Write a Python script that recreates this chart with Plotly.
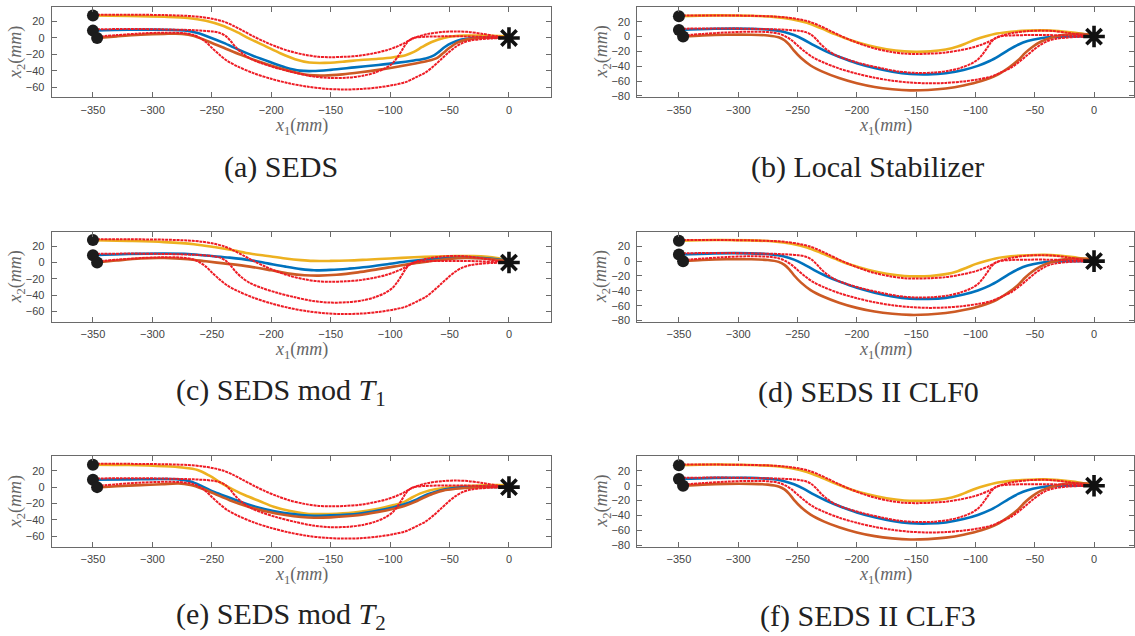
import plotly.graph_objects as go

W, H = 1135, 636

# ---------------- demonstrations (shared by all panels) ----------------
demo_a_x = [-350, -320, -290, -270, -258, -248, -240, -232, -224, -215, -205, -195, -185, -172, -160, -150, -138, -125, -113, -103, -95, -89, -84, -78, -68, -55, -45, -35, -22, -10, 0]
demo_a_y = [28.5, 28.5, 28, 27, 25.5, 23, 20, 15, 9, 2, -5, -11, -16, -20.5, -23, -23.5, -23, -21.5, -18.5, -15, -11, -7, -3, 1, 5, 7.5, 8, 7.5, 5, 2, 0]

demo_b_x = [-350, -320, -290, -265, -250, -243, -238, -234, -230, -225, -218, -208, -195, -180, -165, -150, -135, -122, -112, -104, -98, -94, -90, -87, -84, -80, -70, -55, -40, -25, -10, 0]
demo_b_y = [10.5, 11, 10.5, 9.5, 8, 6, 2, -4, -11, -18, -25, -31, -37, -42.5, -47, -49, -48.5, -46, -42, -37, -31, -24, -15, -8, -3, 0, 1.5, 2, 2, 1.5, 0.5, 0]

demo_c_x = [-347, -330, -310, -290, -275, -266, -260, -255, -250, -244, -237, -228, -215, -200, -185, -170, -155, -140, -125, -110, -97, -87, -78, -70, -63, -57, -51, -45, -39, -32, -24, -14, 0]
demo_c_y = [1.5, 3.5, 5.5, 6.5, 6, 4, 0, -5, -12, -20, -28, -35, -43, -50, -55.5, -59.5, -62, -63, -62.5, -60.5, -57.5, -54, -48, -42, -34, -26, -18, -11, -6, -3, -1.5, -0.5, 0]

# start points and target
start_x = [-350, -350, -346.5]
start_y = [27.5, 9, 0]
target_x = [0]
target_y = [0]

# ---------------- (a) SEDS ----------------
a_yel_x = [-350, -320, -290, -270, -255, -242, -230, -218, -205, -192, -180, -168, -155, -140, -125, -110, -97, -87, -80, -73, -65, -55, -45, -35, -20, -8, 0]
a_yel_y = [27.5, 27, 26, 24.5, 21, 15.5, 8, -1, -10, -19, -26, -30, -30.5, -29, -27, -25.5, -23.5, -21, -17, -11, -5, 0, 2.5, 3, 3, 2.5, 2]
a_blu_x = [-350, -320, -290, -270, -262, -252, -240, -228, -215, -200, -188, -176, -165, -150, -130, -110, -95, -80, -70, -64, -59, -54, -48, -40, -30, -15, 0]
a_blu_y = [9, 10, 10, 8.5, 6, 1, -6, -14, -22, -30, -36, -40, -40.5, -39, -36, -33, -30.5, -27.5, -25, -22, -17, -11, -6, -2, 0, 0.5, 0]
a_org_x = [-346.5, -330, -310, -290, -275, -265, -255, -240, -225, -210, -195, -180, -168, -155, -140, -125, -110, -95, -80, -68, -60, -55, -50, -44, -36, -25, -12, 0]
a_org_y = [0, 2, 4, 5, 5, 2.5, -3, -12, -21, -29, -36, -42, -45.5, -46, -44.5, -42, -39, -35.5, -31.5, -28, -24, -18, -12, -6, -2, 0, 0.5, 0]

# ---------------- (b) Local Stabilizer ----------------
b_yel_x = [-350, -320, -290, -270, -255, -242, -230, -218, -205, -190, -175, -160, -150, -138, -125, -115, -107, -100, -92, -82, -70, -55, -42, -30, -18, -8, 0]
b_yel_y = [27.5, 28.5, 28, 26.5, 23.5, 18.5, 11, 3, -5, -12, -17, -20, -20.5, -20, -17.5, -13.5, -8.5, -4, 0, 4, 6.5, 8, 8.5, 7.5, 5.5, 3, 2]
b_blu_x = [-350, -320, -290, -272, -262, -253, -245, -236, -226, -214, -200, -185, -170, -155, -140, -125, -110, -98, -88, -80, -72, -64, -56, -46, -35, -22, -10, 0]
b_blu_y = [9, 10.5, 10.5, 9, 6.5, 2, -4, -12, -20, -28, -36, -42.5, -47.5, -50.5, -51, -49.5, -45, -39.5, -33, -26, -18, -11, -6, -2.5, -0.5, 0, 0, 0]
b_org_x = [-346.5, -330, -310, -290, -275, -266, -261, -257, -253, -247, -239, -228, -215, -200, -185, -170, -155, -140, -125, -110, -95, -82, -72, -64, -58, -52, -45, -37, -27, -16, -6, 0]
b_org_y = [0, 1.5, 2.5, 2.5, 1.5, -1, -5, -11, -19, -29, -39, -48, -56, -63, -68, -71, -72.5, -72, -70, -66, -60, -52, -42, -32, -22, -14, -7, -2, 2, 3.5, 3, 1.5]

# ---------------- (c) SEDS mod T1 ----------------
c_yel_x = [-350, -320, -290, -265, -248, -232, -218, -203, -188, -175, -165, -150, -135, -120, -100, -80, -60, -45, -30, -18, -8, 0]
c_yel_y = [27.5, 26.5, 25, 22.5, 19, 15, 11, 8, 5, 3, 2, 2, 2.5, 3.5, 5, 6.5, 7.5, 8, 8, 7, 5, 3]
c_blu_x = [-350, -320, -290, -270, -250, -235, -218, -203, -188, -175, -164, -150, -135, -120, -100, -85, -67, -50, -37, -22, -10, 0]
c_blu_y = [9, 10.5, 11, 10.5, 8, 6, 3, -1, -5, -8, -9.5, -9, -7.5, -5.5, -1.5, 1.5, 4, 5.5, 6, 5.5, 4, 2]
c_org_x = [-346.5, -330, -310, -290, -270, -255, -240, -218, -200, -185, -172, -160, -145, -127, -110, -97, -80, -67, -50, -37, -22, -8, 0]
c_org_y = [0, 2.5, 5, 5.5, 4, 1.5, -1, -5, -9.5, -13.5, -15.5, -16, -15, -12, -8, -5, -1, 1.5, 4.5, 5.5, 5, 3, 1.5]

# ---------------- (d) SEDS II CLF0 ----------------
d_yel_x, d_yel_y = b_yel_x, b_yel_y
d_blu_x, d_blu_y = b_blu_x, b_blu_y
d_org_x, d_org_y = b_org_x, b_org_y

# ---------------- (e) SEDS mod T2 ----------------
e_yel_x = [-350, -320, -290, -275, -262, -252, -242, -232, -222, -210, -198, -185, -170, -160, -145, -127, -110, -97, -88, -82, -75, -67, -55, -40, -25, -10, 0]
e_yel_y = [27.5, 27, 25.5, 24, 21, 14, 5, -3, -10, -17, -24, -29, -32.5, -33, -32.5, -30.5, -26.5, -22, -18, -13, -8, -4, -1, 1, 2, 2.5, 2]
e_blu_x = [-350, -320, -290, -278, -268, -258, -248, -235, -220, -205, -190, -175, -164, -150, -127, -110, -97, -88, -79, -72, -67, -58, -48, -37, -25, -12, 0]
e_blu_y = [9, 9.5, 10, 9.5, 7, 1, -6, -13, -21, -27, -31.5, -34, -35, -34.5, -32.5, -28.5, -24.5, -21, -16, -11, -8, -4, -1.5, 0, 0.5, 0.3, 0]
e_org_x = [-346.5, -330, -310, -292, -278, -268, -258, -248, -235, -218, -203, -188, -175, -164, -150, -127, -110, -97, -88, -79, -72, -64, -55, -45, -37, -25, -12, 0]
e_org_y = [-0.5, 1, 2.5, 3.5, 4.5, 2.5, -2, -8, -16, -24.5, -30, -34, -36.5, -37.5, -37, -34.5, -30.5, -26.5, -23, -18, -13, -8, -4, -2, -1, 0, 0.3, 0]

# ---------------- (f) SEDS II CLF3 ----------------
f_yel_x, f_yel_y = b_yel_x, b_yel_y
f_blu_x, f_blu_y = b_blu_x, b_blu_y
f_org_x, f_org_y = b_org_x, b_org_y

captions = ["(a) SEDS", "(b) Local Stabilizer", "(c) SEDS mod <i>T</i><sub>1</sub>",
            "(d) SEDS II CLF0", "(e) SEDS mod <i>T</i><sub>2</sub>", "(f) SEDS II CLF3"]
x_ticks = [-350, -300, -250, -200, -150, -100, -50, 0]
y_ticks_short = [-60, -40, -20, 0, 20]
y_ticks_long = [-80, -60, -40, -20, 0, 20]

repro = [
    ((a_yel_x, a_yel_y), (a_blu_x, a_blu_y), (a_org_x, a_org_y)),
    ((b_yel_x, b_yel_y), (b_blu_x, b_blu_y), (b_org_x, b_org_y)),
    ((c_yel_x, c_yel_y), (c_blu_x, c_blu_y), (c_org_x, c_org_y)),
    ((d_yel_x, d_yel_y), (d_blu_x, d_blu_y), (d_org_x, d_org_y)),
    ((e_yel_x, e_yel_y), (e_blu_x, e_blu_y), (e_org_x, e_org_y)),
    ((f_yel_x, f_yel_y), (f_blu_x, f_blu_y), (f_org_x, f_org_y)),
]
demos = [(demo_a_x, demo_a_y), (demo_b_x, demo_b_y), (demo_c_x, demo_c_y)]

# ---------------- layout geometry (pixels) ----------------
col_x = [(51.7, 550.7), (637.3, 1134.0)]
row_y = [(7.3, 98.0), (233.3, 324.0), (459.3, 550.0)]
col_xrange = [[-384.7, 35.1], [-385.1, 33.7]]
col_yrange = [[-72.7, 37.6], [-82.0, 39.5]]
col_yticks = [y_ticks_short, y_ticks_long]
caption_pos = [(281, 168), (867, 168), (281, 394), (868, 394), (281, 620), (868, 620)]

repro_colors = ["#EDB120", "#0072BD", "#CC5A24"]
demo_color = "#EE1C25"
frame_color = "#6a6a6a"

fig = go.Figure()
layout = dict(
    width=W, height=H,
    margin=dict(l=0, r=0, t=0, b=0),
    paper_bgcolor="white", plot_bgcolor="white",
    showlegend=False,
)
annotations = []

for i in range(6):
    row, col = i // 2, i % 2
    k = "" if i == 0 else str(i + 1)
    xa, ya = "x" + k, "y" + k
    x0, x1 = col_x[col]
    y0, y1 = row_y[row]
    dom_x = [x0 / W, min(x1 / W, 1.0)]
    dom_y = [1 - y1 / H, 1 - y0 / H]

    axis_common = dict(
        showline=True, linecolor=frame_color, linewidth=1, mirror="ticks",
        ticks="inside", ticklen=5, tickwidth=1, tickcolor=frame_color,
        showgrid=False, zeroline=False,
        tickfont=dict(family="Liberation Sans, Arial, sans-serif", size=11, color="#444444"),
        fixedrange=True,
    )
    layout["xaxis" + k] = dict(axis_common, domain=dom_x, range=col_xrange[col],
                               tickmode="array", tickvals=x_ticks,
                               anchor=ya, ticklabelstandoff=2)
    layout["yaxis" + k] = dict(axis_common, domain=dom_y, range=col_yrange[col],
                               tickmode="array", tickvals=col_yticks[col],
                               anchor=xa, ticklabelstandoff=4)

    # reproductions
    for (xs, ys), c in zip(repro[i], repro_colors):
        fig.add_trace(go.Scatter(x=xs, y=ys, mode="lines", xaxis=xa, yaxis=ya,
                                 line=dict(color=c, width=2.6, shape="spline", smoothing=0.9),
                                 hoverinfo="skip"))
    # demonstrations (red dotted)
    for xs, ys in demos:
        fig.add_trace(go.Scatter(x=xs, y=ys, mode="lines", xaxis=xa, yaxis=ya,
                                 line=dict(color=demo_color, width=2.0, dash="3px,0.8px",
                                           shape="spline", smoothing=0.9),
                                 hoverinfo="skip"))
    # start points
    fig.add_trace(go.Scatter(x=start_x, y=start_y, mode="markers", xaxis=xa, yaxis=ya,
                             marker=dict(color="#1c1c1c", size=12, line=dict(width=0)),
                             cliponaxis=False, hoverinfo="skip"))
    # target
    fig.add_trace(go.Scatter(x=target_x, y=target_y, mode="markers", xaxis=xa, yaxis=ya,
                             marker=dict(symbol="asterisk-open", size=18, color="#111111",
                                         line=dict(color="#111111", width=3.6)),
                             cliponaxis=False, hoverinfo="skip"))

    # axis titles
    cx = (x0 + x1) / 2
    annotations.append(dict(
        text="<i>x</i><sub>1</sub>(<i>mm</i>)", xref="paper", yref="paper",
        x=cx / W, y=1 - (y1 + 29) / H, xanchor="center", yanchor="middle",
        showarrow=False, font=dict(family="Liberation Serif, serif", size=18, color="#666666")))
    annotations.append(dict(
        text="<i>x</i><sub>2</sub>(<i>mm</i>)", xref="paper", yref="paper",
        x=(x0 - 35) / W, y=1 - ((y0 + y1) / 2) / H, xanchor="center", yanchor="middle",
        textangle=-90, showarrow=False,
        font=dict(family="Liberation Serif, serif", size=18, color="#666666")))
    # caption
    px, py = caption_pos[i]
    annotations.append(dict(
        text=captions[i], xref="paper", yref="paper", x=px / W, y=1 - py / H,
        xanchor="center", yanchor="middle", showarrow=False,
        font=dict(family="Liberation Serif, serif", size=30, color="#222222")))

layout["annotations"] = annotations
fig.update_layout(**layout)
fig.write_html("out.html")
